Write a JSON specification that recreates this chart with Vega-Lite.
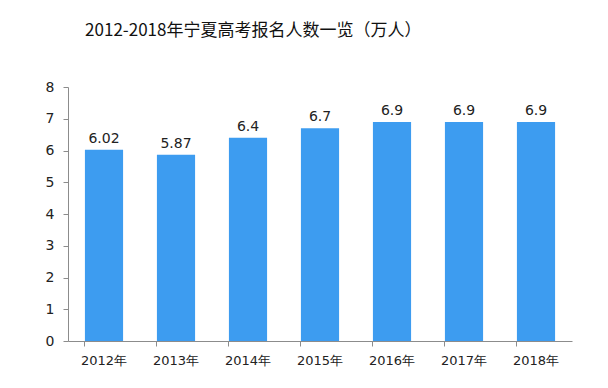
{
  "$schema": "https://vega.github.io/schema/vega-lite/v6.json",
  "width": 504,
  "height": 254,
  "autosize": {"type": "none"},
  "padding": {"left": 68, "top": 87, "right": 36, "bottom": 47},
  "background": "white",
  "title": {
    "text": "2012-2018年宁夏高考报名人数一览（万人）",
    "anchor": "start",
    "dx": 40,
    "offset": 40,
    "font": "Noto Sans CJK SC",
    "fontSize": 17,
    "fontWeight": "normal",
    "color": "#111111"
  },
  "data": {
    "values": [
      {"year": "2012年", "value": 6.02, "label": "6.02"},
      {"year": "2013年", "value": 5.87, "label": "5.87"},
      {"year": "2014年", "value": 6.4, "label": "6.4"},
      {"year": "2015年", "value": 6.7, "label": "6.7"},
      {"year": "2016年", "value": 6.9, "label": "6.9"},
      {"year": "2017年", "value": 6.9, "label": "6.9"},
      {"year": "2018年", "value": 6.9, "label": "6.9"}
    ]
  },
  "encoding": {
    "x": {
      "field": "year",
      "type": "nominal",
      "sort": null,
      "scale": {"paddingInner": 0.47, "paddingOuter": 0.235},
      "axis": {
        "title": null,
        "labelAngle": 0,
        "bandPosition": 0,
        "tickSize": 5,
        "labelPadding": 8,
        "labelFont": "DejaVu Sans",
        "labelFontSize": 13,
        "labelColor": "#222222",
        "domainColor": "#8c8c8c",
        "tickColor": "#8c8c8c"
      }
    },
    "y": {
      "field": "value",
      "type": "quantitative",
      "scale": {"domain": [0, 8]},
      "axis": {
        "title": null,
        "values": [0, 1, 2, 3, 4, 5, 6, 7, 8],
        "labelOverlap": false,
        "grid": false,
        "tickSize": 5,
        "labelPadding": 9,
        "labelFont": "DejaVu Sans",
        "labelFontSize": 14,
        "labelColor": "#222222",
        "domainColor": "#8c8c8c",
        "tickColor": "#8c8c8c"
      }
    }
  },
  "layer": [
    {"mark": {"type": "bar", "color": "#3d9cf0"}},
    {
      "mark": {"type": "text", "dy": -11, "font": "DejaVu Sans", "fontSize": 14, "color": "#222222"},
      "encoding": {"text": {"field": "label"}}
    }
  ],
  "config": {"view": {"stroke": null}}
}
